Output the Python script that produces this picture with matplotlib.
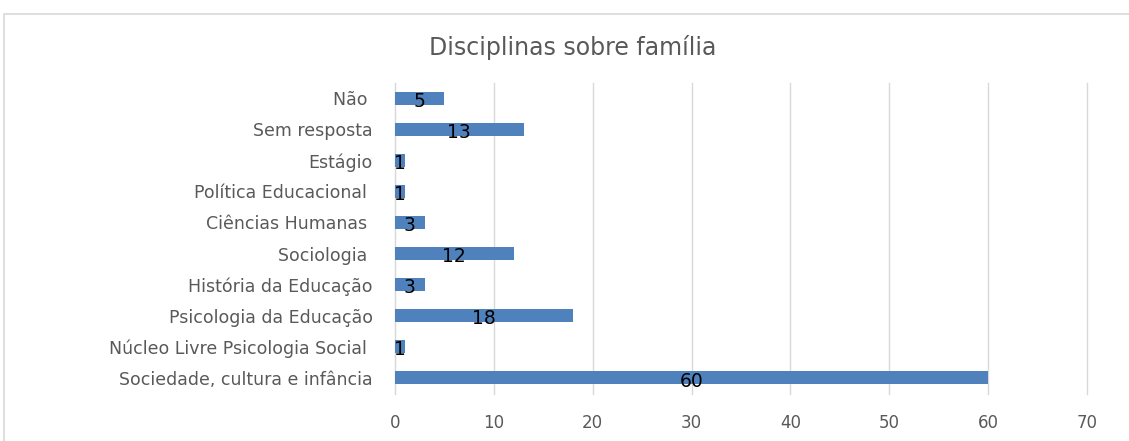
import numpy as np
import matplotlib.pyplot as plt
from matplotlib.patches import Rectangle

# dados (de baixo para cima)
categorias = ['Sociedade, cultura e infância', 'Núcleo Livre Psicologia Social ',
              'Psicologia da Educação', 'História da Educação', 'Sociologia ',
              'Ciências Humanas ', 'Política Educacional ', 'Estágio',
              'Sem resposta', 'Não ']
valores = [60, 1, 18, 3, 12, 3, 1, 1, 13, 5]
ticks_x = [0, 10, 20, 30, 40, 50, 60, 70]

fig = plt.figure(figsize=(11.29, 4.41), dpi=100)
ax = fig.add_axes([0.3499, 0.1077, 0.9628 - 0.3499, 0.8129 - 0.1077])

# moldura do gráfico (estilo Excel)
fig.patches.append(Rectangle((4 / 1129, -0.1), 1.2, 1 - 14 / 441 + 0.1,
                             transform=fig.transFigure, fill=False,
                             edgecolor='#d9d9d9', linewidth=1.2))

y = np.arange(len(categorias))
ax.barh(y, valores, height=0.42, color='#4f81bd', zorder=3)

for yi, v in zip(y, valores):
    ax.text(v / 2, yi - 0.1, str(v), ha='center', va='center',
            fontsize=13.5, color='black', zorder=4)

ax.set_xlim(0, 70)
ax.set_ylim(-0.5, len(categorias) - 0.5)
ax.set_xticks(ticks_x)
ax.set_yticks(y)
ax.set_yticklabels(categorias, fontsize=12.5, color='#595959')
ax.tick_params(axis='x', labelsize=12, labelcolor='#595959', length=0, pad=15)
ax.tick_params(axis='y', length=0, pad=16)
ax.xaxis.grid(True, color='#d9d9d9', linewidth=1, zorder=0)
for gl in ax.get_xgridlines():
    gl.set_clip_on(False)

for s in ['top', 'right', 'bottom']:
    ax.spines[s].set_visible(False)
ax.spines['left'].set_color('#d9d9d9')

fig.text(0.507, 1 - 48 / 441, 'Disciplinas sobre família', ha='center', va='center',
         fontsize=17, color='#595959')

plt.savefig('out.png', dpi=100)
